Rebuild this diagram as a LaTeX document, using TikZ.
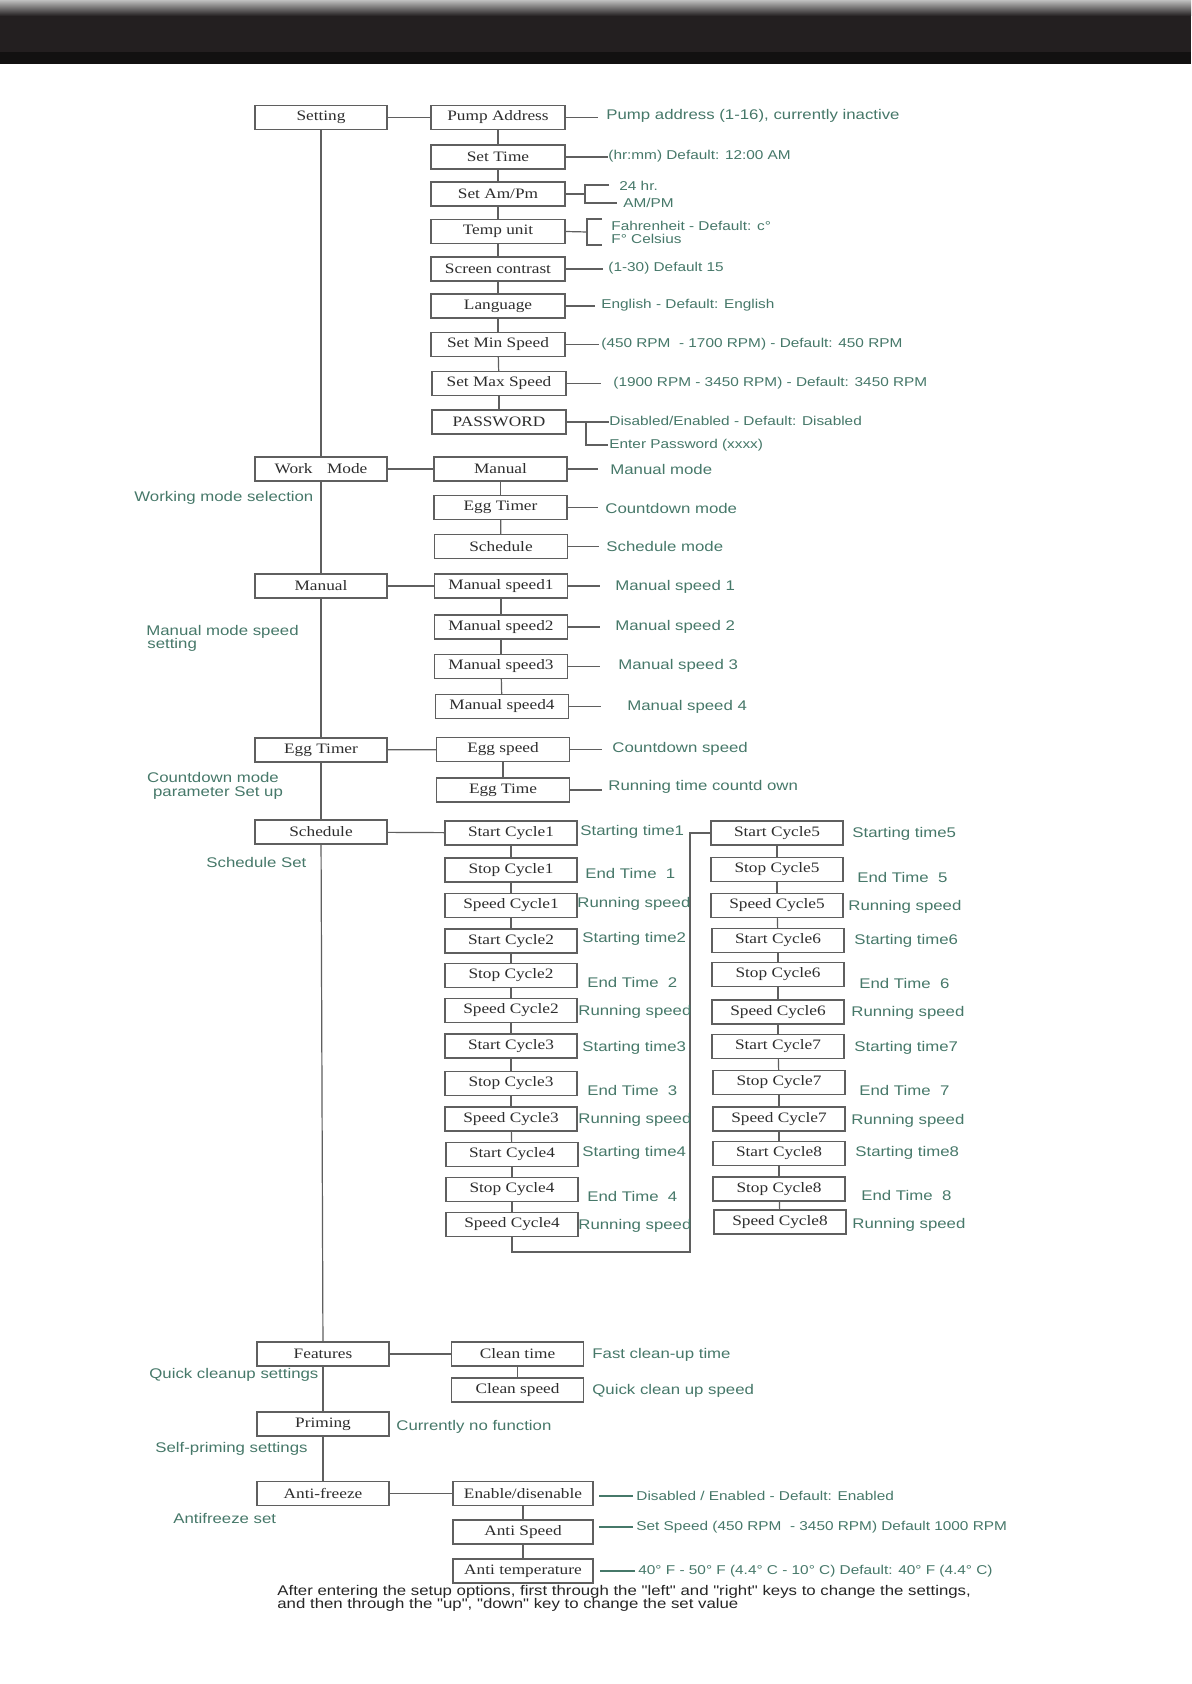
\documentclass[tikz,border=0pt]{standalone}
\usepackage{fontspec}
\setmainfont{Liberation Serif}
\newfontfamily\boxfont[FakeStretch=1.2]{Liberation Serif}
\newfontfamily\annfont[FakeStretch=1.2]{Liberation Sans}
\usetikzlibrary{calc}
\definecolor{anncol}{RGB}{70,120,105}
\definecolor{boxline}{RGB}{95,95,95}
\definecolor{boxtext}{RGB}{45,45,45}
\definecolor{hdark}{RGB}{35,31,32}
\definecolor{hdarker}{RGB}{18,17,17}
\begin{document}
\begin{tikzpicture}[x=0.5pt,y=-0.5pt,
  bx/.style={draw=boxline, line width=0.65pt, fill=white, minimum height=12pt, inner sep=0pt, text=boxtext, font=\boxfont\fontsize{7.2}{8}\selectfont},
  bxL/.style={bx, minimum width=66pt},
  bxS/.style={bx, minimum width=67pt},
  bxW/.style={bx, minimum width=66.5pt},
  bxC/.style={bx, minimum width=66pt},
  bxA/.style={bx, minimum width=70pt},
  ann/.style={anchor=west, inner sep=0pt, text=anncol, font=\annfont\fontsize{7}{8}\selectfont},
  annS/.style={ann, font=\annfont\fontsize{6.4}{7.5}\selectfont},
  foot/.style={anchor=west, inner sep=0pt, text=black!85, font=\annfont\fontsize{7}{8}\selectfont},
  ln/.style={draw=boxline, line width=0.6pt},
  gln/.style={draw=anncol, line width=0.9pt}]
\useasboundingbox (0,0) rectangle (1191,1684);
\fill[white] (0,0) rectangle (1191,1684);
% header
\shade[top color=gray!50, bottom color=hdark] (0,0) rectangle (1191,16);
\fill[hdark] (0,16) rectangle (1191,52);
\fill[hdarker] (0,52) rectangle (1191,64);

% left column
\node[bxL] (setting) at (321,117.5) {Setting};
\node[bxL] (workmode) at (321,469) {Work\quad Mode};
\node[bxL] (manualL) at (321,586) {Manual};
\node[bxL] (eggL) at (321,750) {Egg Timer};
\node[bxL] (schedL) at (321,832) {Schedule};
\node[bxL] (features) at (323,1354) {Features};
\node[bxL] (priming) at (323,1424) {Priming};
\node[bxL] (antifreeze) at (323,1493.5) {Anti-freeze};

% setting submenu
\node[bxS] (pump) at (498,117.5) {Pump Address};
\node[bxS] (settime) at (498,157) {Set Time};
\node[bxS] (ampm) at (498,194) {Set Am/Pm};
\node[bxS] (tempunit) at (498,231.5) {Temp unit};
\node[bxS] (contrast) at (498,269) {Screen contrast};
\node[bxS] (language) at (498,306) {Language};
\node[bxS] (minspeed) at (498,344.5) {Set Min Speed};
\node[bxS] (maxspeed) at (499,383.5) {Set Max Speed};
\node[bxS] (password) at (499,422) {PASSWORD};

% work mode submenu
\node[bxW] (manualS) at (500.5,469) {Manual};
\node[bxW] (eggS) at (500.5,507.5) {Egg Timer};
\node[bxW] (schedS) at (501,546.5) {Schedule};
% manual speeds
\node[bxW] (ms1) at (501,586) {Manual speed1};
\node[bxW] (ms2) at (501,627) {Manual speed2};
\node[bxW] (ms3) at (501,666.5) {Manual speed3};
\node[bxW] (ms4) at (502,706.5) {Manual speed4};
% egg timer
\node[bxW] (eggspeed) at (503,749.5) {Egg speed};
\node[bxW] (eggtime) at (503,790) {Egg Time};

% schedule column A
\node[bxC] (sc1) at (511,833) {Start Cycle1};
\node[bxC] (stc1) at (511,870) {Stop Cycle1};
\node[bxC] (spc1) at (511,905.5) {Speed Cycle1};
\node[bxC] (sc2) at (511,941) {Start Cycle2};
\node[bxC] (stc2) at (511,975.5) {Stop Cycle2};
\node[bxC] (spc2) at (511,1010.5) {Speed Cycle2};
\node[bxC] (sc3) at (511,1046) {Start Cycle3};
\node[bxC] (stc3) at (511,1083.5) {Stop Cycle3};
\node[bxC] (spc3) at (511,1119) {Speed Cycle3};
\node[bxC] (sc4) at (512,1154.5) {Start Cycle4};
\node[bxC] (stc4) at (512,1189.5) {Stop Cycle4};
\node[bxC] (spc4) at (512,1224.5) {Speed Cycle4};
% schedule column B
\node[bxC] (sc5) at (777,833) {Start Cycle5};
\node[bxC] (stc5) at (777,869.5) {Stop Cycle5};
\node[bxC] (spc5) at (777,905.5) {Speed Cycle5};
\node[bxC] (sc6) at (778,940.5) {Start Cycle6};
\node[bxC] (stc6) at (778,974.5) {Stop Cycle6};
\node[bxC] (spc6) at (778,1012) {Speed Cycle6};
\node[bxC] (sc7) at (778,1046.5) {Start Cycle7};
\node[bxC] (stc7) at (779,1082.5) {Stop Cycle7};
\node[bxC] (spc7) at (779,1119) {Speed Cycle7};
\node[bxC] (sc8) at (779,1153.5) {Start Cycle8};
\node[bxC] (stc8) at (779,1189) {Stop Cycle8};
\node[bxC] (spc8) at (780,1222) {Speed Cycle8};

% features etc.
\node[bxC] (cleantime) at (517.5,1354) {Clean time};
\node[bxC] (cleanspeed) at (517.5,1390) {Clean speed};
\node[bxA] (enable) at (523,1493.5) {Enable/disenable};
\node[bxA] (antispeed) at (523,1532) {Anti Speed};
\node[bxA] (antitemp) at (523,1571) {Anti temperature};

% connectors
\foreach \a/\b in {setting/workmode, workmode/manualL, manualL/eggL, eggL/schedL, schedL/features, features/priming, priming/antifreeze,
  setting/pump, pump/settime, settime/ampm, ampm/tempunit, tempunit/contrast, contrast/language, language/minspeed, minspeed/maxspeed, maxspeed/password,
  workmode/manualS, manualS/eggS, eggS/schedS,
  manualL/ms1, ms1/ms2, ms2/ms3, ms3/ms4,
  eggL/eggspeed, eggspeed/eggtime,
  schedL/sc1, sc1/stc1, stc1/spc1, spc1/sc2, sc2/stc2, stc2/spc2, spc2/sc3, sc3/stc3, stc3/spc3, spc3/sc4, sc4/stc4, stc4/spc4,
  sc5/stc5, stc5/spc5, spc5/sc6, sc6/stc6, stc6/spc6, spc6/sc7, sc7/stc7, stc7/spc7, spc7/sc8, sc8/stc8, stc8/spc8,
  features/cleantime, cleantime/cleanspeed,
  antifreeze/enable, enable/antispeed, antispeed/antitemp}
  \draw[ln] (\a) -- (\b);
\coordinate (jB) at (690,1252);
\draw[ln] (spc4.south) |- (jB) |- (sc5.west);

% setting annotations
\node[ann] (tpump) at (606,116) {Pump address (1-16), currently inactive};
\draw[ln] (pump.east) -- ++(32,0);
\node[annS] (ttime) at (608,156) {(hr:mm) Default: 12:00 AM};
\draw[ln] (settime.east) -- ++(42,0);
\coordinate (ab) at (585,194);
\draw[ln] (ampm.east) -- (ab);
\draw[ln] ($(ab)+(24,-9)$) -- ($(ab)+(0,-9)$) -- ($(ab)+(0,9)$) -- ($(ab)+(32,9)$);
\node[annS] (t24) at (619,185.5) {24 hr.};
\node[annS] (tampm) at (623,203) {AM/PM};
\coordinate (tb) at (587,232);
\draw[ln] (tempunit.east) -- (tb);
\draw[ln] ($(tb)+(15,-13)$) -- ($(tb)+(0,-13)$) -- ($(tb)+(0,13)$) -- ($(tb)+(15,13)$);
\node[annS] (tfahr) at (611,226) {Fahrenheit - Default: c°};
\node[annS] (tcels) at (611,239) {F° Celsius};
\node[annS] (tcontr) at (608,268) {(1-30) Default 15};
\draw[ln] (contrast.east) -- ++(37,0);
\node[annS] (tlang) at (601,305) {English - Default: English};
\draw[ln] (language.east) -- ++(29,0);
\node[annS] (tmin) at (601,344) {(450 RPM\ \ - 1700 RPM) - Default: 450 RPM};
\draw[ln] (minspeed.east) -- ++(33,0);
\node[annS] (tmax) at (613,383) {(1900 RPM - 3450 RPM) - Default: 3450 RPM};
\draw[ln] (maxspeed.east) -- ++(34,0);
\coordinate (pb) at (586,422);
\draw[ln] (password.east) -- ++(42,0);
\draw[ln] (pb) -- ++(0,23) -- ++(22,0);
\node[annS] (tdis) at (609,421) {Disabled/Enabled - Default: Disabled};
\node[annS] (tpw) at (609,445) {Enter Password (xxxx)};

% work mode annotations
\node[ann] (tmm) at (610,469) {Manual mode};
\draw[ln] (manualS.east) -- ++(30,0);
\node[ann] (tcm) at (605,508) {Countdown mode};
\draw[ln] (eggS.east) -- ++(30,0);
\node[ann] (tsm) at (606,546) {Schedule mode};
\draw[ln] (schedS.east) -- ++(31,0);
\node[ann] (tms1) at (615,587) {Manual speed 1};
\draw[ln] (ms1.east) -- ++(32,0);
\node[ann] (tms2) at (615,627) {Manual speed 2};
\draw[ln] (ms2.east) -- ++(32,0);
\node[ann] (tms3) at (618,666) {Manual speed 3};
\draw[ln] (ms3.east) -- ++(32,0);
\node[ann] (tms4) at (627,707) {Manual speed 4};
\draw[ln] (ms4.east) -- ++(32,0);
\node[ann] (tcs) at (612,749) {Countdown speed};
\draw[ln] (eggspeed.east) -- ++(32,0);
\node[ann] (trt) at (608,787) {Running time countd own};
\draw[ln] (eggtime.east) -- ++(32,0);

% left notes
\node[ann] (nwm) at (134,498) {Working mode selection};
\node[ann] (nms1) at (146,632) {Manual mode speed};
\node[ann] (nms2) at (147,645) {setting};
\node[ann, anchor=center] (ncd1) at (213,777) {Countdown mode};
\node[ann, anchor=center] (ncd2) at (218,793) {parameter Set up};
\node[ann] (nss) at (206,862) {Schedule Set};
\node[ann] (nqc) at (149,1375) {Quick cleanup settings};
\node[ann] (nsp) at (155,1449) {Self-priming settings};
\node[ann] (naf) at (173,1518) {Antifreeze set};

% schedule annotations A
\node[ann] at (580,832) {Starting time1};
\node[ann] at (585,873) {End Time~~1};
\node[ann] at (577,904) {Running speed};
\node[ann] at (582,939) {Starting time2};
\node[ann] at (587,982) {End Time~~2};
\node[ann] at (578,1012) {Running speed};
\node[ann] at (582,1048) {Starting time3};
\node[ann] at (587,1090) {End Time~~3};
\node[ann] at (578,1120) {Running speed};
\node[ann] at (582,1153) {Starting time4};
\node[ann] at (587,1196) {End Time~~4};
\node[ann] at (578,1226) {Running speed};
% schedule annotations B
\node[ann] at (852,834) {Starting time5};
\node[ann] at (857,877) {End Time~~5};
\node[ann] at (848,907) {Running speed};
\node[ann] at (854,941) {Starting time6};
\node[ann] at (859,983) {End Time~~6};
\node[ann] at (851,1013) {Running speed};
\node[ann] at (854,1048) {Starting time7};
\node[ann] at (859,1090) {End Time~~7};
\node[ann] at (851,1121) {Running speed};
\node[ann] at (855,1153) {Starting time8};
\node[ann] at (861,1195) {End Time~~8};
\node[ann] at (852,1225) {Running speed};

% bottom annotations
\node[ann] at (592,1355) {Fast clean-up time};
\node[ann] at (592,1391) {Quick clean up speed};
\node[ann] at (396,1427) {Currently no function};
\node[annS] (ten) at (636,1496) {Disabled / Enabled - Default: Enabled};
\draw[gln] ($(ten.west)+(-3,0)$) -- ++(-34,0);
\node[annS] (tas) at (636,1527) {Set Speed (450 RPM\ \ - 3450 RPM) Default 1000 RPM};
\draw[gln] ($(tas.west)+(-3,0)$) -- ++(-34,0);
\node[annS] (tat) at (638,1571) {40° F - 50° F (4.4° C - 10° C) Default: 40° F (4.4° C)};
\draw[gln] ($(tat.west)+(-3,0)$) -- ++(-35,0);

% footer
\node[foot] (f1) at (277,1592) {After entering the setup options, first through the "left" and "right" keys to change the settings,};
\node[foot] (f2) at (277,1605) {and then through the "up", "down" key to change the set value};
\end{tikzpicture}
\end{document}
